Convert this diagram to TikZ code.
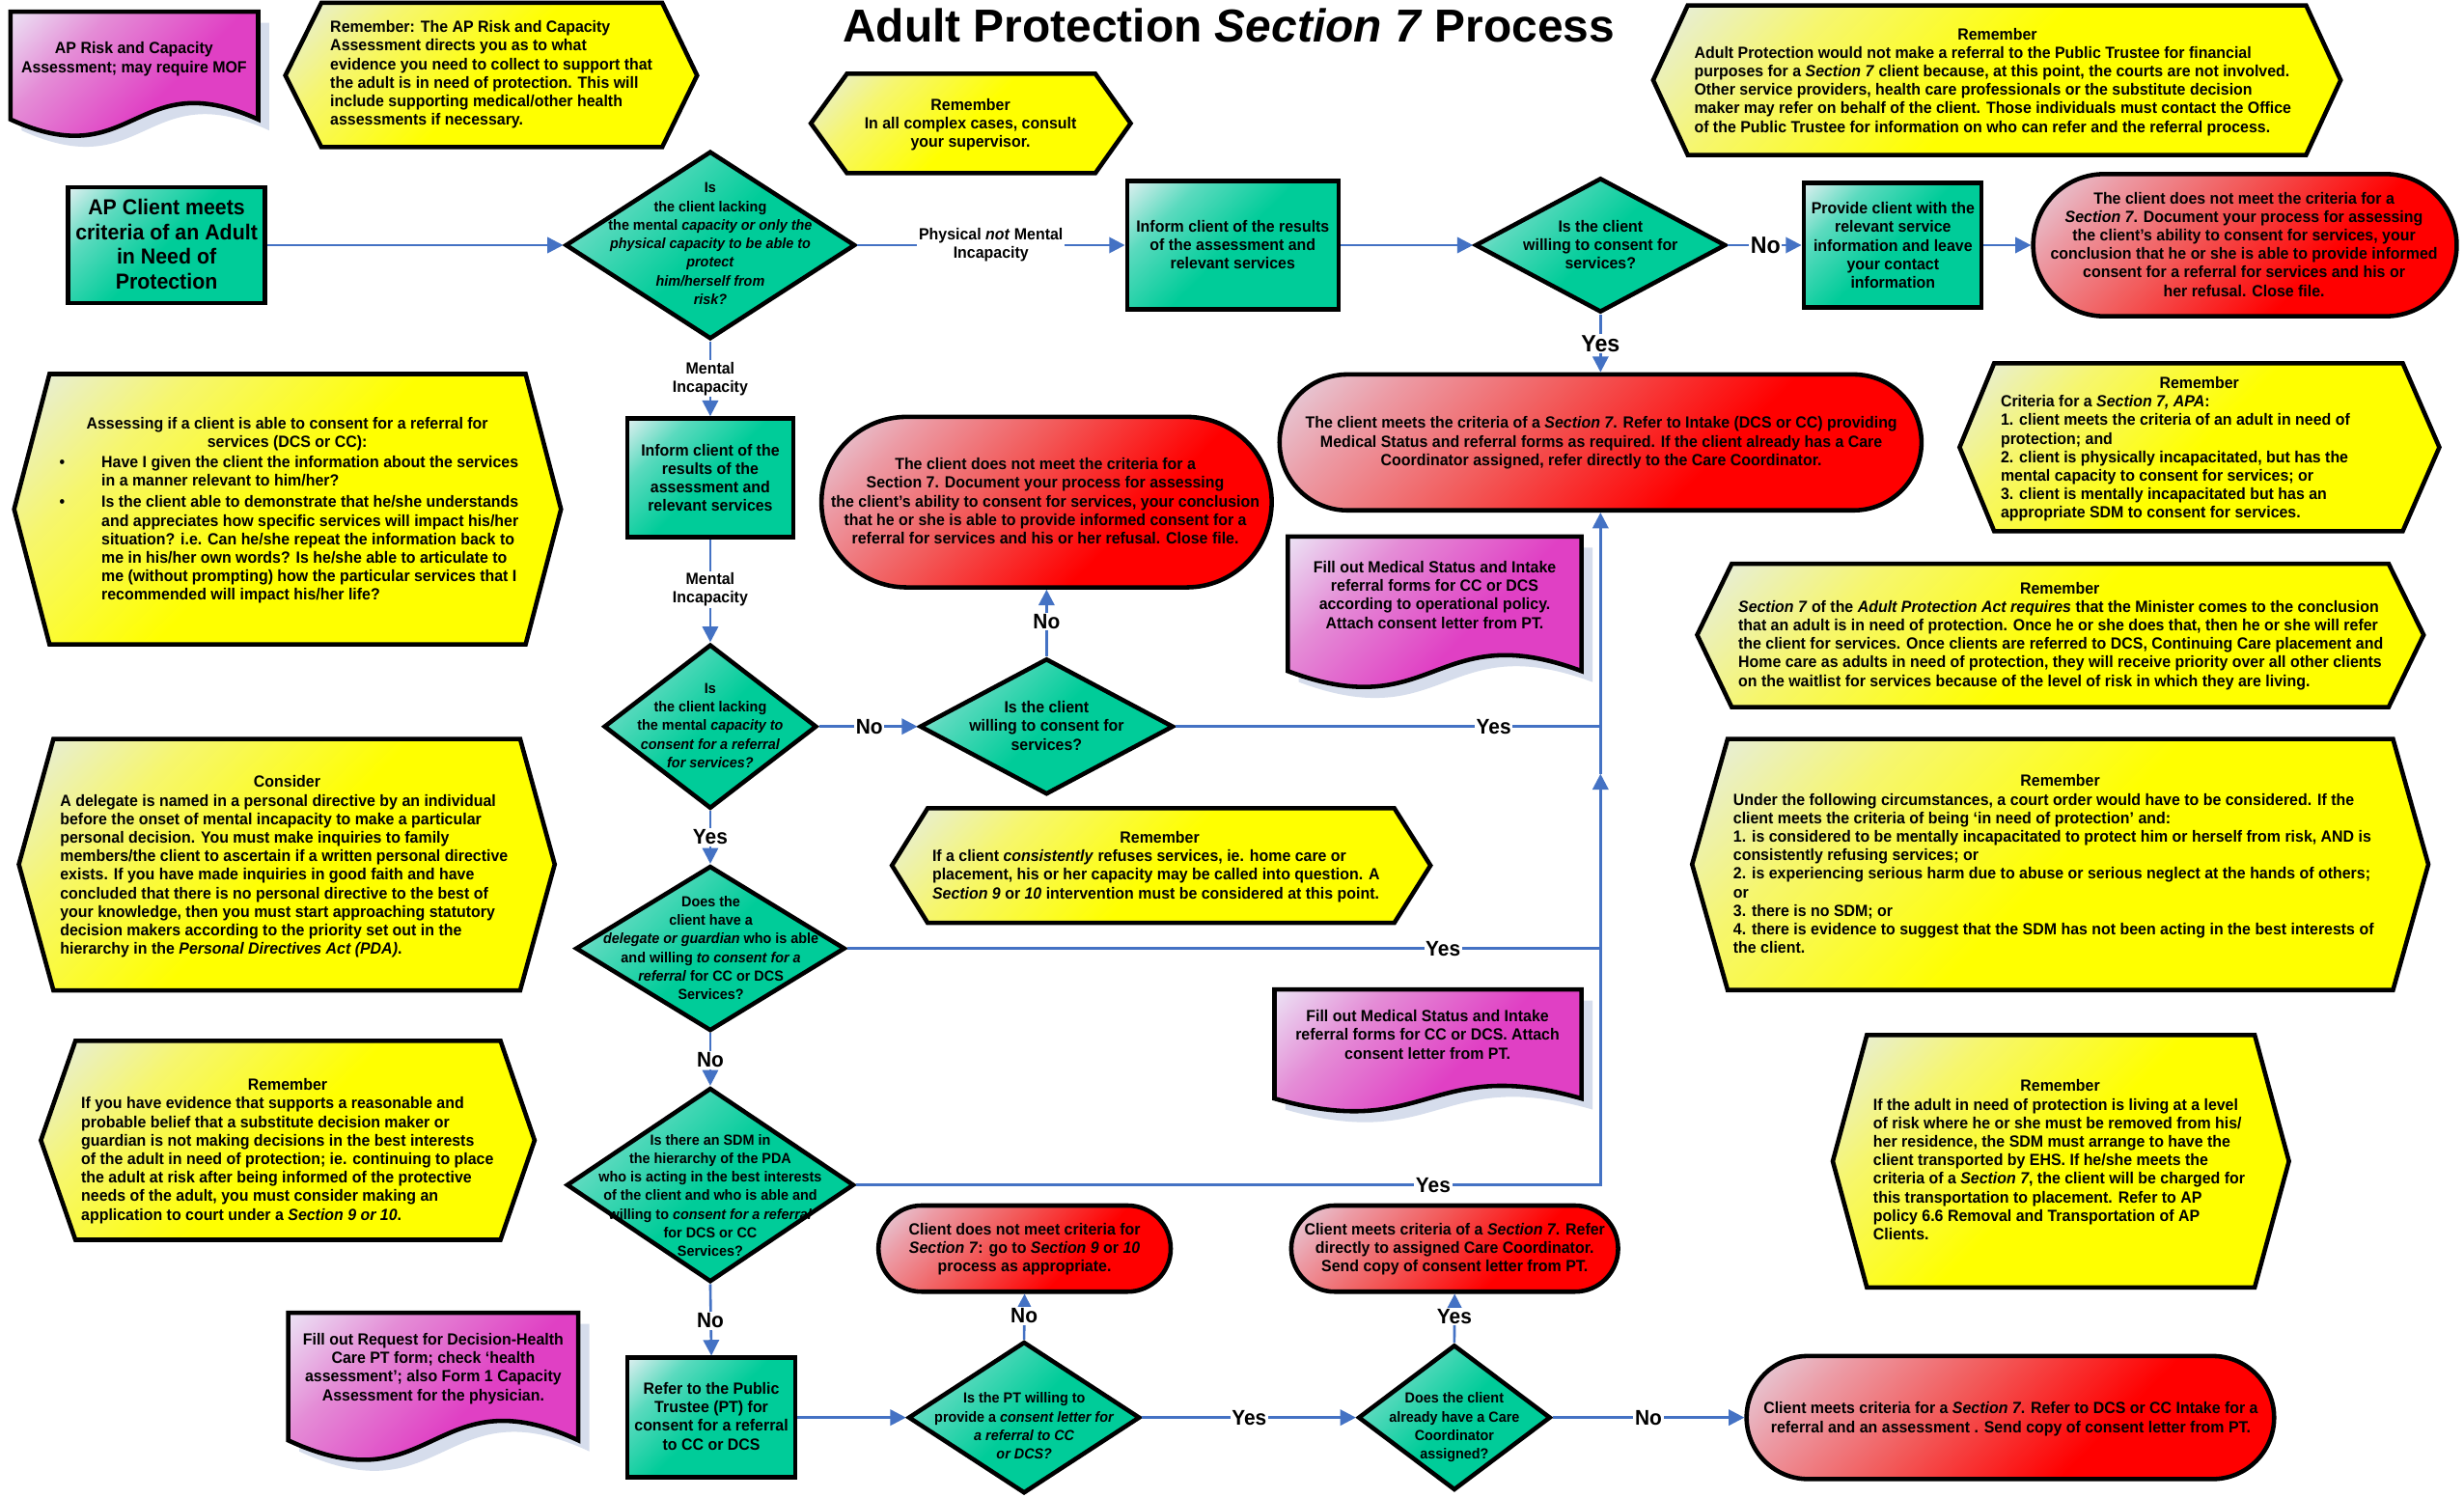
\documentclass[tikz,border=0pt]{standalone}
\usepackage{fontspec}
\setmainfont[FakeStretch=0.95]{Liberation Sans}
\newfontfamily\titlefont{Liberation Sans}
\usetikzlibrary{arrows.meta,shapes.geometric,shapes.misc}
\definecolor{tealD}{RGB}{0,204,153}
\definecolor{tealM}{RGB}{90,218,190}
\definecolor{tealL}{RGB}{228,240,242}
\definecolor{yelD}{RGB}{255,255,0}
\definecolor{yelM}{RGB}{246,246,110}
\definecolor{yelL}{RGB}{228,236,236}
\definecolor{redD}{RGB}{255,0,0}
\definecolor{redM}{RGB}{242,90,90}
\definecolor{redN}{RGB}{236,155,165}
\definecolor{redL}{RGB}{228,216,230}
\definecolor{magD}{RGB}{224,64,196}
\definecolor{magM}{RGB}{228,140,214}
\definecolor{magL}{RGB}{236,230,246}
\definecolor{cblue}{RGB}{68,114,196}
\definecolor{shadowc}{RGB}{214,221,236}
\pgfdeclareverticalshading{shTeal}{100bp}{color(0bp)=(tealD); color(50bp)=(tealD); color(70bp)=(tealM); color(86bp)=(tealL); color(100bp)=(tealL)}
\pgfdeclareverticalshading{shYel}{100bp}{color(0bp)=(yelD); color(50bp)=(yelD); color(70bp)=(yelM); color(86bp)=(yelL); color(100bp)=(yelL)}
\pgfdeclareverticalshading{shRed}{100bp}{color(0bp)=(redD); color(38bp)=(redD); color(58bp)=(redM); color(74bp)=(redN); color(86bp)=(redL); color(100bp)=(redL)}
\pgfdeclareverticalshading{shMag}{100bp}{color(0bp)=(magD); color(45bp)=(magD); color(68bp)=(magM); color(86bp)=(magL); color(100bp)=(magL)}
\newcommand{\myfN}{\bfseries\fontsize{10.3}{11.8}\selectfont}
\newcommand{\myfD}{\bfseries\fontsize{9.3}{11.8}\selectfont}
\newcommand{\myfL}{\bfseries\fontsize{13.8}{15.7}\selectfont}
\newcommand{\myfY}{\bfseries\fontsize{13.5}{15}\selectfont}
\newcommand{\myfYb}{\bfseries\fontsize{15}{17}\selectfont}
\newcommand{\hexa}[7]{\shadedraw[hexst] (#1,#7) -- (#2,#5) -- (#3,#5) -- (#4,#7) -- (#3,#6) -- (#2,#6) -- cycle;}
\newcommand{\docshp}[5]{%
  \fill[shadowc] (#1+7,#3+7) -- (#2+7,#3+7) -- (#2+7,#4+7) .. controls ({(#1+#2)/2+7},#4-#5+7) and ({(#1+#2)/2+7},#4+#5+7) .. (#1+7,#4+7) -- cycle;
  \shadedraw[docst] (#1,#3) -- (#2,#3) -- (#2,#4) .. controls ({(#1+#2)/2},#4-#5) and ({(#1+#2)/2},#4+#5) .. (#1,#4) -- cycle;}
\newcommand{\bul}{\llap{\makebox[26.7pt][l]{\textbullet}}}
\begin{document}
\begin{tikzpicture}[x=1pt,y=-1pt,
  box/.style={rectangle, draw, line width=2.8pt, shade, shading=shTeal, shading angle=45, inner sep=0pt},
  dia/.style={diamond, draw, line width=2.8pt, shade, shading=shTeal, shading angle=45, inner sep=0pt},
  term/.style={rounded rectangle, draw, line width=2.8pt, shade, shading=shRed, shading angle=45, inner sep=0pt},
  hexst/.style={draw, line width=2.8pt, shading=shYel, shading angle=45},
  docst/.style={draw, line width=2.8pt, shading=shMag, shading angle=45},
  conn/.style={draw=cblue, line width=1.6pt, -{Triangle[length=10pt,width=10pt]}},
  cline/.style={draw=cblue, line width=1.6pt},
  lab/.style={fill=white, inner sep=1pt, align=center, font=\myfY},
  tx/.style={inner sep=0pt, align=center, anchor=north, font=\myfN},
  txl/.style={inner sep=0pt, align=left, anchor=north west, font=\myfN},
  hd/.style={inner sep=0pt, anchor=center, font=\myfN}]
\useasboundingbox (0,0) rectangle (1568,953);
\fill[white] (0,0) rectangle (1568,953);

% ---------- notes (hexagons) ----------
\hexa{181.6}{204.5}{421.4}{443.6}{1.8}{93.6}{48}
\hexa{516}{539}{697}{719.5}{46.9}{110.2}{78.5}
\hexa{1052}{1074}{1467.5}{1489.5}{3.4}{98.6}{51}
\hexa{9}{31.5}{334.5}{357}{238}{410}{324}
\hexa{1247}{1269}{1529}{1552.3}{231.1}{338}{284.6}
\hexa{1080}{1102}{1520}{1542.3}{358.7}{450}{404}
\hexa{12}{34}{331}{353}{470.2}{630.2}{550}
\hexa{567.6}{590.3}{887.3}{910.3}{514.3}{587.2}{550.7}
\hexa{1076.8}{1099.4}{1522.8}{1545.3}{470.2}{630}{550}
\hexa{1166.3}{1188}{1434.8}{1456.6}{658.6}{819.2}{738.9}
\hexa{26}{48}{318.5}{340.2}{662.3}{788.9}{725.6}

% ---------- documents ----------
\docshp{6.7}{164.3}{7.5}{76}{36}
\docshp{819.5}{1006.4}{341.4}{427}{35}
\docshp{811}{1006.4}{629.6}{699}{28}
\docshp{183.4}{368}{835.4}{916.5}{43}

% ---------- flow shapes ----------
\node[box, minimum width=125.5pt, minimum height=73.5pt] (b1) at (106,156) {};
\node[dia, minimum width=184.5pt, minimum height=119.5pt] (d1) at (452,156) {};
\node[box, minimum width=134.5pt, minimum height=81.5pt] (b2) at (784.5,156) {};
\node[dia, minimum width=159.5pt, minimum height=85.5pt] (d2) at (1018.5,156) {};
\node[box, minimum width=113pt, minimum height=79.5pt] (b3) at (1204.3,156) {};
\node[term, minimum width=269.5pt, minimum height=90.5pt] (t1) at (1428.6,156) {};
\node[term, minimum width=408.5pt, minimum height=86.5pt] (t2) at (1018.5,281.5) {};
\node[box, minimum width=105.5pt, minimum height=75.5pt] (b4) at (452,304) {};
\node[term, minimum width=286.5pt, minimum height=108.5pt] (t3) at (666,319.5) {};
\node[dia, minimum width=135.5pt, minimum height=104.5pt] (d3) at (452,462.3) {};
\node[dia, minimum width=161.5pt, minimum height=86.5pt] (d4) at (666,462.3) {};
\node[dia, minimum width=171.5pt, minimum height=105pt] (d5) at (452,603.5) {};
\node[dia, minimum width=183pt, minimum height=123.5pt] (d6) at (452,754) {};
\node[box, minimum width=107pt, minimum height=76pt] (b5) at (452.7,902) {};
\node[dia, minimum width=147.5pt, minimum height=96.5pt] (d7) at (651.7,902) {};
\node[term, minimum width=186pt, minimum height=54.8pt] (t4) at (652,794.5) {};
\node[dia, minimum width=122.5pt, minimum height=92.5pt] (d8) at (925.5,902) {};
\node[term, minimum width=208pt, minimum height=54.8pt] (t5) at (925.7,794.5) {};
\node[term, minimum width=335.7pt, minimum height=78.3pt] (t6) at (1279.3,902) {};

\coordinate (j0) at (1018.5,462.3);
\coordinate (j1) at (1018.5,492.4);
\coordinate (j2) at (1018.5,603.5);

% ---------- connectors ----------
\draw[conn] (b1.east) -- (d1.west);
\draw[conn] (d1.east) -- (b2.west);
\draw[conn] (b2.east) -- (d2.west);
\draw[conn] (d2.east) -- (b3.west);
\draw[conn] (b3.east) -- (t1.west);
\draw[conn] (d2.south) -- (t2.north);
\draw[conn] (d1.south) -- (b4.north);
\draw[conn] (b4.south) -- (d3.north);
\draw[conn] (d3.east) -- (d4.west);
\draw[conn] (d4.north) -- (t3.south);
\draw[conn] (d4.east) -| (t2.south);
\draw[cline] (j1) -- (j0);
\draw[conn] (d3.south) -- (d5.north);
\draw[conn] (d5.east) -| (j1);
\draw[conn] (d5.south) -- (d6.north);
\draw[cline] (d6.east) -| (j2);
\draw[conn] (d6.south) -- (b5.north);
\draw[conn] (b5.east) -- (d7.west);
\draw[conn] (d7.north) -- (t4.south);
\draw[conn] (d7.east) -- (d8.west);
\draw[conn] (d8.north) -- (t5.south);
\draw[conn] (d8.east) -- (t6.west);

% ---------- connector labels ----------
\node[lab, font=\myfN] (l1) at (630.6,156) {Physical \textit{not} Mental\\Incapacity};
\node[lab, font=\myfYb] (l2) at (1123.5,156) {No};
\node[lab, font=\myfYb] (l3) at (1018.5,218.7) {Yes};
\node[lab, font=\myfN] (l4) at (452,241) {Mental\\Incapacity};
\node[lab, font=\myfN] (l5) at (452,375) {Mental\\Incapacity};
\node[lab] (l6) at (553.2,462.3) {No};
\node[lab] (l7) at (666,395.6) {No};
\node[lab] (l8) at (950.5,462.3) {Yes};
\node[lab] (l9) at (452,532.7) {Yes};
\node[lab] (l10) at (918.3,603.5) {Yes};
\node[lab] (l11) at (452,674.6) {No};
\node[lab] (l12) at (912,754) {Yes};
\node[lab] (l13) at (452,840.5) {No};
\node[lab] (l14) at (651.7,837.4) {No};
\node[lab] (l15) at (794.9,902) {Yes};
\node[lab] (l16) at (925.5,837.8) {Yes};
\node[lab] (l17) at (1049,902) {No};

% ---------- title ----------
\node[inner sep=0pt, anchor=base, font=\titlefont\bfseries\fontsize{29.4}{34}\selectfont] (title) at (782,26.6) {Adult Protection \textit{Section 7} Process};

% ---------- texts of flow shapes ----------
\node[tx, font=\myfL] (b1t) at (106,126.6) {AP Client meets\\criteria of an Adult\\in Need of\\Protection};
\node[tx, font=\myfD] (d1t) at (452,116.2) {Is\\the client lacking\\the mental \textit{capacity or only the}\\\textit{physical capacity to be able to}\\\textit{protect}\\\textit{him/herself from}\\\textit{risk?}};
\node[tx] (b2t) at (784.5,140) {Inform client of the results\\of the assessment and\\relevant services};
\node[tx] (d2t) at (1018.5,140) {Is the client\\willing to consent for\\services?};
\node[tx] (b3t) at (1204.6,128.5) {Provide client with the\\relevant service\\information and leave\\your contact\\information};
\node[tx] (t1t) at (1428,122) {The client does not meet the criteria for a\\\textit{Section 7}. Document your process for assessing\\the client’s ability to consent for services, your\\conclusion that he or she is able to provide informed\\consent for a referral for services and his or\\her refusal. Close file.};
\node[tx] (t2t) at (1019,265) {The client meets the criteria of a \textit{Section 7}. Refer to Intake (DCS or CC) providing\\Medical Status and referral forms as required. If the client already has a Care\\Coordinator assigned, refer directly to the Care Coordinator.};
\node[tx] (b4t) at (452,282.3) {Inform client of the\\results of the\\assessment and\\relevant services};
\node[tx] (t3t) at (665.2,291.3) {The client does not meet the criteria for a\\Section 7. Document your process for assessing\\the client’s ability to consent for services, your conclusion\\that he or she is able to provide informed consent for a\\referral for services and his or her refusal. Close file.};
\node[tx, font=\myfD] (d3t) at (452,434.6) {Is\\the client lacking\\the mental \textit{capacity to}\\\textit{consent for a referral}\\\textit{for services?}};
\node[tx] (d4t) at (666,446) {Is the client\\willing to consent for\\services?};
\node[tx, font=\myfD] (d5t) at (452.4,570.1) {Does the\\client have a\\\textit{delegate or guardian} who is able\\and willing \textit{to consent for a}\\\textit{referral} for CC or DCS\\Services?};
\node[tx, font=\myfD] (d6t) at (452,721.6) {Is there an SDM in\\the hierarchy of the PDA\\who is acting in the best interests\\of the client and who is able and\\willing to \textit{consent for a referral}\\for DCS or CC\\Services?};
\node[tx] (b5t) at (452.7,879.5) {Refer to the Public\\Trustee (PT) for\\consent for a referral\\to CC or DCS};
\node[tx, font=\myfD] (d7t) at (651.8,886) {Is the PT willing to\\provide a \textit{consent letter for}\\\textit{a referral to CC}\\\textit{or DCS?}};
\node[tx] (t4t) at (652,778.1) {Client does not meet criteria for\\\textit{Section 7}: go to \textit{Section 9} or \textit{10}\\process as appropriate.};
\node[tx, font=\myfD] (d8t) at (925.5,886) {Does the client\\already have a Care\\Coordinator\\assigned?};
\node[tx] (t5t) at (925.7,778.1) {Client meets criteria of a \textit{Section 7}. Refer\\directly to assigned Care Coordinator.\\Send copy of consent letter from PT.};
\node[tx] (t6t) at (1279.6,892) {Client meets criteria for a \textit{Section 7}. Refer to DCS or CC Intake for a\\referral and an assessment . Send copy of consent letter from PT.};

% ---------- document texts ----------
\node[tx] (doc1t) at (85.3,26.7) {AP Risk and Capacity\\Assessment; may require MOF};
\node[tx] (doc2t) at (913,356.8) {Fill out Medical Status and Intake\\referral forms for CC or DCS\\according to operational policy.\\Attach consent letter from PT.};
\node[tx] (doc3t) at (908.4,642.6) {Fill out Medical Status and Intake\\referral forms for CC or DCS. Attach\\consent letter from PT.};
\node[tx] (doc4t) at (275.7,848.2) {Fill out Request for Decision-Health\\Care PT form; check ‘health\\assessment’; also Form 1 Capacity\\Assessment for the physician.};

% ---------- note texts ----------
\node[txl] (r1b) at (210,13) {Remember: The AP Risk and Capacity\\Assessment directs you as to what\\evidence you need to collect to support that\\the adult is in need of protection. This will\\include supporting medical/other health\\assessments if necessary.};
\node[tx] (r2b) at (617.6,62.5) {Remember\\In all complex cases, consult\\your supervisor.};
\node[hd] (r3h) at (1271,22) {Remember};
\node[txl] (r3b) at (1078,29.4) {Adult Protection would not make a referral to the Public Trustee for financial\\purposes for a \textit{Section 7} client because, at this point, the courts are not involved.\\Other service providers, health care professionals or the substitute decision\\maker may refer on behalf of the client. Those individuals must contact the Office\\of the Public Trustee for information on who can refer and the referral process.};
\node[tx] (r4h) at (182.8,265.3) {Assessing if a client is able to consent for a referral for\\services (DCS or CC):};
\node[txl] (r4b) at (64.4,289.8) {\bul Have I given the client the information about the services\\in a manner relevant to him/her?\\[1.9pt]\bul Is the client able to demonstrate that he/she understands\\and appreciates how specific services will impact his/her\\situation? i.e. Can he/she repeat the information back to\\me in his/her own words? Is he/she able to articulate to\\me (without prompting) how the particular services that I\\recommended will impact his/her life?};
\node[hd] (r5h) at (1399.5,243.6) {Remember};
\node[txl] (r5b) at (1273,251.3) {Criteria for a \textit{Section 7, APA}:\\1. client meets the criteria of an adult in need of\\protection; and\\2. client is physically incapacitated, but has the\\mental capacity to consent for services; or\\3. client is mentally incapacitated but has an\\appropriate SDM to consent for services.};
\node[hd] (r6h) at (1310.8,374.3) {Remember};
\node[txl] (r6b) at (1106,381.9) {\textit{Section 7} of the \textit{Adult Protection Act requires} that the Minister comes to the conclusion\\that an adult is in need of protection. Once he or she does that, then he or she will refer\\the client for services. Once clients are referred to DCS, Continuing Care placement and\\Home care as adults in need of protection, they will receive priority over all other clients\\on the waitlist for services because of the level of risk in which they are living.};
\node[hd] (r7h) at (182.7,497.1) {Consider};
\node[txl] (r7b) at (38.1,505.2) {A delegate is named in a personal directive by an individual\\before the onset of mental incapacity to make a particular\\personal decision. You must make inquiries to family\\members/the client to ascertain if a written personal directive\\exists. If you have made inquiries in good faith and have\\concluded that there is no personal directive to the best of\\your knowledge, then you must start approaching statutory\\decision makers according to the priority set out in the\\hierarchy in the \textit{Personal Directives Act (PDA)}.};
\node[hd] (r8h) at (738,533) {Remember};
\node[txl] (r8b) at (593.1,540.6) {If a client \textit{consistently} refuses services, ie. home care or\\placement, his or her capacity may be called into question. A\\\textit{Section 9} or \textit{10} intervention must be considered at this point.};
\node[hd] (r9h) at (1311,496.8) {Remember};
\node[txl] (r9b) at (1102.8,504.6) {Under the following circumstances, a court order would have to be considered. If the\\client meets the criteria of being ‘in need of protection’ and:\\1. is considered to be mentally incapacitated to protect him or herself from risk, AND is\\consistently refusing services; or\\2. is experiencing serious harm due to abuse or serious neglect at the hands of others;\\or\\3. there is no SDM; or\\4. there is evidence to suggest that the SDM has not been acting in the best interests of\\the client.};
\node[hd] (r10h) at (1311,690.4) {Remember};
\node[txl] (r10b) at (1191.9,698.7) {If the adult in need of protection is living at a level\\of risk where he or she must be removed from his/\\her residence, the SDM must arrange to have the\\client transported by EHS. If he/she meets the\\criteria of a \textit{Section 7}, the client will be charged for\\this transportation to placement. Refer to AP\\policy 6.6 Removal and Transportation of AP\\Clients.};
\node[hd] (r11h) at (183,690) {Remember};
\node[txl] (r11b) at (51.5,697.9) {If you have evidence that supports a reasonable and\\probable belief that a substitute decision maker or\\guardian is not making decisions in the best interests\\of the adult in need of protection; ie. continuing to place\\the adult at risk after being informed of the protective\\needs of the adult, you must consider making an\\application to court under a \textit{Section 9 or 10}.};
\end{tikzpicture}
\end{document}
